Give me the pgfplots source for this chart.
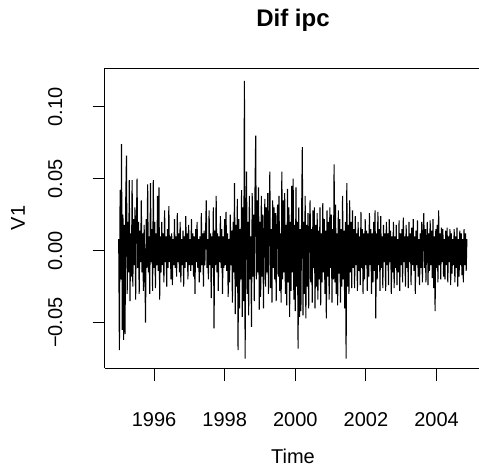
\documentclass[border=0pt]{standalone}
\usepackage{fontspec}
\setmainfont{Liberation Sans}
\usepackage{pgfplots}
\pgfplotsset{compat=1.18}
\begin{document}%
\fontsize{12}{14.4}\selectfont%
\begin{tikzpicture}
\useasboundingbox (0,0) rectangle (287.4pt,282pt);
\begin{axis}[
  name=ax, at={(63pt,61.2pt)}, anchor=south west,
  scale only axis, width=224.4pt, height=180pt,
  xmin=1994.612, xmax=2005.203, ymin=-0.0815, ymax=0.1269,
  axis x line*=bottom, axis y line*=left,
  x axis line style={-, line width=0.6pt},
  y axis line style={-, line width=0.6pt},
  tick align=outside, major tick length=7.5pt,
  every tick/.style={black, line width=0.6pt},
  xtick pos=left, ytick pos=left,
  xtick={1996,1998,2000,2002,2004}, xticklabels={1996,1998,2000,2002,2004},
  ytick={-0.05,0,0.05,0.1}, yticklabels={−0.05,0.00,0.05,0.10},
  xticklabel style={anchor=base, yshift=-27.6pt},
  yticklabel style={xshift=-18.2pt, rotate=90, anchor=base},
  clip=true,
]
\addplot[black, line width=0.65pt] table[header=false, row sep=\\, x expr=1995+\coordindex*0.02, y index=0] {
0.008\\ -0.069\\ 0.042\\ -0.020\\ 0.074\\ -0.055\\ 0.025\\ -0.062\\ 0.018\\ -0.058\\ 0.036\\
0.066\\ -0.030\\ 0.020\\ -0.015\\ 0.049\\ -0.035\\ 0.012\\ -0.018\\ 0.049\\ -0.025\\
0.022\\ -0.010\\ 0.030\\ -0.034\\ 0.015\\ 0.050\\ -0.012\\ 0.020\\ -0.030\\ 0.014\\
-0.008\\ 0.035\\ -0.015\\ 0.012\\ -0.028\\ 0.018\\ -0.010\\ -0.050\\ 0.022\\ -0.012\\
0.046\\ -0.015\\ 0.010\\ -0.030\\ 0.047\\ -0.008\\ 0.015\\ -0.028\\ 0.049\\ -0.012\\
0.020\\ -0.026\\ 0.012\\ -0.010\\ 0.038\\ -0.014\\ 0.044\\ -0.034\\ 0.010\\ -0.015\\
0.020\\ -0.010\\ 0.012\\ -0.022\\ 0.028\\ -0.008\\ 0.010\\ -0.025\\ 0.015\\ -0.012\\
0.031\\ -0.008\\ 0.010\\ -0.020\\ 0.012\\ -0.024\\ 0.008\\ -0.010\\ 0.022\\ -0.012\\
0.010\\ -0.018\\ 0.026\\ -0.008\\ 0.012\\ -0.015\\ 0.020\\ -0.022\\ 0.008\\ -0.010\\
0.014\\ -0.025\\ 0.010\\ -0.012\\ 0.024\\ -0.008\\ 0.012\\ -0.020\\ 0.018\\ -0.010\\
0.008\\ -0.014\\ 0.022\\ -0.010\\ 0.012\\ -0.018\\ 0.010\\ -0.030\\ 0.015\\ -0.008\\
0.020\\ -0.012\\ 0.008\\ -0.022\\ 0.010\\ -0.015\\ 0.026\\ -0.010\\ 0.012\\ -0.025\\
0.014\\ -0.010\\ 0.012\\ 0.035\\ -0.012\\ 0.008\\ -0.020\\ 0.028\\ -0.010\\ 0.012\\
-0.033\\ 0.010\\ -0.012\\ 0.030\\ -0.054\\ 0.014\\ -0.010\\ 0.038\\ -0.015\\ 0.012\\
-0.028\\ 0.010\\ -0.008\\ 0.024\\ -0.012\\ 0.015\\ -0.030\\ 0.010\\ -0.012\\ 0.022\\
-0.010\\ 0.027\\ -0.014\\ 0.012\\ -0.032\\ 0.008\\ -0.022\\ 0.025\\ -0.010\\ 0.014\\
-0.036\\ 0.020\\ -0.015\\ 0.047\\ -0.044\\ 0.018\\ -0.025\\ 0.036\\ -0.069\\ 0.022\\
-0.040\\ 0.015\\ -0.020\\ 0.042\\ -0.046\\ 0.030\\ -0.035\\ 0.118\\ -0.075\\ 0.025\\
0.055\\ -0.030\\ 0.020\\ -0.045\\ 0.038\\ -0.020\\ 0.010\\ -0.053\\ 0.040\\ -0.018\\
0.025\\ -0.035\\ 0.042\\ 0.080\\ -0.020\\ 0.035\\ -0.015\\ 0.044\\ -0.041\\ 0.020\\
-0.032\\ 0.038\\ -0.018\\ 0.025\\ -0.040\\ 0.012\\ 0.036\\ -0.025\\ 0.030\\ -0.015\\
0.040\\ -0.030\\ 0.020\\ 0.055\\ -0.026\\ 0.015\\ -0.036\\ 0.035\\ -0.012\\ 0.030\\
-0.020\\ 0.026\\ -0.035\\ 0.015\\ 0.032\\ -0.018\\ 0.038\\ -0.028\\ 0.012\\ -0.036\\
0.055\\ -0.020\\ 0.035\\ -0.015\\ 0.040\\ -0.030\\ 0.018\\ -0.038\\ 0.043\\ -0.022\\
0.030\\ -0.046\\ 0.020\\ -0.028\\ 0.045\\ -0.015\\ 0.050\\ -0.034\\ 0.018\\ -0.042\\
0.044\\ -0.025\\ 0.020\\ -0.068\\ 0.030\\ -0.046\\ 0.015\\ -0.042\\ 0.025\\ 0.072\\
-0.045\\ 0.020\\ -0.030\\ 0.038\\ -0.047\\ 0.018\\ -0.025\\ 0.026\\ -0.040\\ 0.012\\
0.035\\ -0.022\\ 0.015\\ -0.036\\ 0.028\\ -0.012\\ 0.030\\ -0.040\\ 0.018\\ -0.025\\
0.026\\ -0.034\\ 0.014\\ -0.020\\ 0.030\\ -0.038\\ 0.012\\ -0.022\\ 0.033\\ -0.015\\
0.022\\ -0.030\\ 0.014\\ -0.047\\ 0.028\\ -0.018\\ 0.020\\ -0.034\\ 0.030\\ -0.012\\
0.025\\ -0.036\\ 0.015\\ -0.020\\ 0.060\\ -0.022\\ 0.032\\ -0.030\\ 0.012\\ -0.038\\
0.028\\ -0.016\\ 0.022\\ -0.036\\ 0.015\\ -0.025\\ 0.038\\ -0.020\\ 0.014\\ -0.040\\
0.020\\ -0.075\\ 0.047\\ -0.025\\ 0.018\\ -0.030\\ 0.035\\ -0.015\\ 0.020\\ -0.026\\
0.028\\ -0.012\\ 0.015\\ -0.026\\ 0.024\\ -0.010\\ 0.012\\ -0.028\\ 0.020\\ -0.014\\
0.010\\ -0.024\\ 0.027\\ -0.012\\ 0.015\\ -0.030\\ 0.012\\ -0.020\\ 0.022\\ -0.010\\
0.014\\ -0.028\\ 0.012\\ -0.018\\ 0.026\\ -0.010\\ 0.015\\ -0.030\\ 0.012\\ -0.022\\
0.020\\ -0.014\\ 0.028\\ -0.047\\ 0.012\\ -0.020\\ 0.027\\ -0.010\\ 0.015\\ -0.028\\
0.024\\ -0.012\\ 0.010\\ -0.026\\ 0.018\\ -0.008\\ 0.012\\ -0.028\\ 0.020\\ -0.010\\
0.012\\ -0.024\\ 0.022\\ -0.008\\ 0.014\\ -0.030\\ 0.010\\ -0.015\\ 0.020\\ -0.026\\
0.010\\ -0.012\\ 0.018\\ -0.024\\ 0.008\\ -0.015\\ 0.021\\ -0.028\\ 0.012\\ -0.010\\
0.015\\ -0.022\\ 0.023\\ -0.008\\ 0.010\\ -0.025\\ 0.018\\ -0.012\\ 0.010\\ -0.026\\
0.020\\ -0.008\\ 0.012\\ -0.024\\ 0.016\\ -0.010\\ 0.022\\ -0.014\\ 0.010\\ -0.030\\
0.014\\ -0.010\\ 0.021\\ -0.018\\ 0.008\\ -0.024\\ 0.012\\ -0.012\\ 0.020\\ -0.022\\
0.010\\ 0.026\\ -0.012\\ 0.015\\ -0.022\\ 0.008\\ 0.020\\ -0.024\\ 0.012\\ -0.014\\
0.021\\ -0.010\\ 0.014\\ -0.019\\ 0.022\\ -0.026\\ 0.010\\ -0.042\\ 0.015\\ -0.012\\
0.018\\ -0.022\\ 0.028\\ -0.010\\ 0.012\\ -0.020\\ 0.016\\ -0.008\\ 0.015\\ -0.018\\
0.008\\ -0.020\\ 0.014\\ -0.010\\ 0.016\\ -0.022\\ 0.010\\ -0.008\\ 0.015\\ -0.024\\
0.012\\ -0.016\\ 0.008\\ -0.010\\ 0.015\\ -0.022\\ 0.010\\ -0.012\\ 0.016\\ -0.025\\
0.008\\ -0.018\\ 0.014\\ -0.010\\ 0.012\\ -0.017\\ 0.008\\ -0.022\\ 0.015\\ -0.010\\
0.012\\ -0.014\\ 0.008\\
};
\end{axis}
\draw[line width=0.6pt] (ax.north west) -- (ax.north east);
\node[font=\bfseries\fontsize{14.4}{17}\selectfont, anchor=base] at ([yshift=24.8pt]63pt+112.8pt,241.2pt) {Dif ipc};
\node[anchor=base] at (175.8pt,4.2pt) {Time};
\node[rotate=90, anchor=base] at ([xshift=-48pt]ax.west) {V1};
\end{tikzpicture}%
\end{document}
